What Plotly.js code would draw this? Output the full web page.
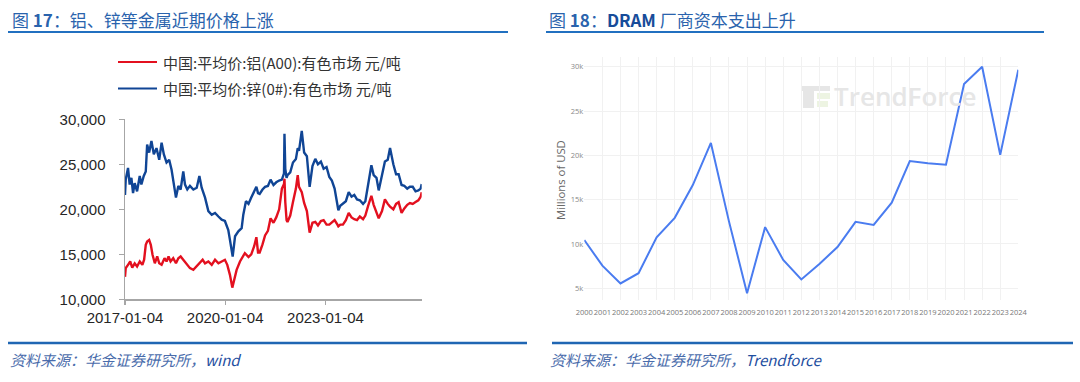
<!DOCTYPE html>
<html>
<head>
<meta charset="utf-8">
<script src="https://cdn.plot.ly/plotly-3.0.1.min.js"></script>
<style>html,body{margin:0;padding:0;background:#fff;}#chart{width:1080px;height:382px;}</style>
</head>
<body>
<div id="chart"></div>
<script>
// ---------- Figure 17: China spot prices (yuan/ton) ----------
const zincDates = [
"2017-01-04","2017-01-12","2017-02-06","2017-02-24","2017-03-15","2017-04-02","2017-04-20","2017-05-16","2017-06-14","2017-07-02","2017-07-28","2017-08-19","2017-09-03","2017-09-25","2017-10-20","2017-11-15","2017-12-14",
"2018-01-13","2018-02-08","2018-03-05","2018-04-03","2018-05-02","2018-05-28","2018-06-23","2018-07-15","2018-08-10","2018-09-04","2018-10-03","2018-10-22","2018-11-16","2018-12-15",
"2019-01-21","2019-02-27","2019-03-28","2019-04-22","2019-05-29","2019-07-04","2019-08-10","2019-09-15","2019-10-22","2019-11-27",
"2020-01-01","2020-02-07","2020-02-25","2020-03-15","2020-03-26","2020-04-21","2020-05-27","2020-07-02","2020-07-20","2020-08-18","2020-09-15","2020-10-15","2020-11-16","2020-12-10","2020-12-28",
"2021-01-15","2021-02-15","2021-03-15","2021-04-15","2021-05-14","2021-06-15","2021-07-15","2021-08-16","2021-09-15","2021-10-08","2021-10-13","2021-10-22","2021-11-05","2021-11-15","2021-12-15",
"2022-01-14","2022-02-15","2022-03-07","2022-03-21","2022-04-20","2022-05-16","2022-06-15","2022-07-15","2022-08-15","2022-09-15","2022-10-14","2022-11-15","2022-12-15",
"2023-01-16","2023-02-15","2023-03-15","2023-04-14","2023-05-15","2023-05-25","2023-06-15","2023-07-14","2023-08-15","2023-09-15","2023-10-16","2023-11-15","2023-12-15",
"2024-01-15","2024-02-19","2024-03-15","2024-04-15","2024-05-20","2024-06-14","2024-07-15","2024-08-08","2024-09-13","2024-10-15","2024-11-15","2024-12-10",
"2025-01-15","2025-02-14","2025-03-14","2025-04-15","2025-05-15","2025-06-16","2025-07-15","2025-08-15","2025-09-15","2025-10-15","2025-11-10","2025-11-21"
];
const zincPrice = [
21600,23300,24600,22750,23500,21800,22900,22000,23700,22750,23700,24200,27200,26300,27600,26100,26800,
25500,27400,26100,25200,25500,24400,22750,21300,22600,22200,24200,22750,22200,22600,
22200,22400,23700,22400,21300,19800,19400,19600,19200,18850,
18700,17700,16600,15300,14750,17000,17550,17900,19400,20900,20600,21300,22100,22500,21800,
21700,22200,22500,22600,23300,22700,23000,23200,23300,24000,28400,24500,23500,23800,24100,
25200,25600,26800,26500,28700,26300,25900,22500,24800,25600,25000,25300,24500,
24700,23600,23200,22300,20500,19900,20400,20600,20900,21900,21400,21600,21100,
21000,20600,20900,22600,24900,23800,23500,22100,24000,25300,25500,26800,
25000,23900,23900,22700,22600,22300,22500,22500,22000,22100,22300,22800
];
const aluDates = [
"2017-01-04","2017-01-12","2017-02-06","2017-03-02","2017-03-24","2017-04-20","2017-05-16","2017-06-14","2017-07-13","2017-08-01","2017-08-19","2017-09-03","2017-09-25","2017-10-13","2017-11-01","2017-11-26","2017-12-22",
"2018-01-13","2018-02-08","2018-03-12","2018-04-03","2018-04-25","2018-05-17","2018-06-15","2018-07-15","2018-08-10","2018-09-04","2018-10-03","2018-11-08","2018-12-15",
"2019-01-21","2019-02-27","2019-03-28","2019-05-03","2019-05-29","2019-07-04","2019-08-10","2019-09-15","2019-10-22","2019-11-27",
"2020-01-01","2020-01-27","2020-02-25","2020-03-22","2020-04-08","2020-05-08","2020-06-14","2020-07-13","2020-08-06","2020-09-15","2020-10-15","2020-11-16","2020-12-10","2020-12-28",
"2021-01-15","2021-02-15","2021-03-15","2021-04-15","2021-05-14","2021-06-15","2021-07-15","2021-08-16","2021-09-15","2021-10-08","2021-10-13","2021-10-22","2021-11-05","2021-11-15","2021-12-15",
"2022-01-14","2022-02-15","2022-03-07","2022-03-21","2022-04-20","2022-05-16","2022-06-15","2022-07-15","2022-08-15","2022-09-15","2022-10-14","2022-11-15","2022-12-15",
"2023-01-16","2023-02-15","2023-03-15","2023-04-14","2023-05-15","2023-05-25","2023-06-15","2023-07-14","2023-08-15","2023-09-15","2023-10-16","2023-11-15","2023-12-15",
"2024-01-15","2024-02-19","2024-03-15","2024-04-15","2024-05-20","2024-06-14","2024-07-15","2024-08-08","2024-09-13","2024-10-15","2024-11-15","2024-12-10",
"2025-01-15","2025-02-14","2025-03-14","2025-04-15","2025-05-15","2025-06-16","2025-07-15","2025-08-15","2025-09-15","2025-10-15","2025-11-10","2025-11-21"
];
const aluPrice = [
12500,13460,13830,14200,13530,14000,13650,14200,13830,14400,16060,16430,16600,16060,14950,14000,14760,
14000,13830,14570,14200,14760,14200,14570,14000,14570,14760,14390,13830,13460,
13270,13650,14000,14390,14000,14200,13830,14390,14000,14200,
14390,13830,12720,11300,12160,13270,14200,14760,15130,14700,15000,15900,16900,15200,
15200,16100,17100,17600,19000,18500,19100,20000,22300,22800,23400,20800,18800,18600,19300,
20800,22300,23800,22500,21900,20700,19800,17400,18500,18600,18200,18700,18800,
18300,18300,18500,18800,18300,18100,18300,18300,18800,19600,19100,18900,18800,
19200,18900,19300,20400,21500,20500,19600,19000,19800,21100,20600,20300,
20000,20600,20800,19600,20100,20500,20700,20600,20800,21000,21400,21900
];
const priceTicks = ["2017-01-04","2020-01-04","2023-01-04"];
const priceYTicks = [10000,15000,20000,25000,30000];
const aluName = "中国:平均价:铝(A00):有色市场 元/吨";
const zincName = "中国:平均价:锌(0#):有色市场 元/吨";

// ---------- Figure 18: DRAM capex (millions of USD) ----------
const capexYears = [2000,2001,2002,2003,2004,2005,2006,2007,2008,2009,2010,2011,2012,2013,2014,2015,2016,2017,2018,2019,2020,2021,2022,2023,2024];
const dramCapex = [10450,7550,5550,6700,10750,12950,16650,21400,12550,4450,11900,8200,6000,7750,9650,12500,12150,14650,19350,19100,18950,28050,30000,20050,29650];
const capexYTicks = [5000,10000,15000,20000,25000,30000];
const capexYLabels = ["5k","10k","15k","20k","25k","30k"];

const W = 1080, H = 382;
const px = x => x / W;
const py = y => 1 - y / H;

const traces = [
  {x: zincDates, y: zincPrice, type: "scatter", mode: "lines", name: zincName,
   line: {color: "#104595", width: 2.4}, xaxis: "x", yaxis: "y"},
  {x: aluDates, y: aluPrice, type: "scatter", mode: "lines", name: aluName,
   line: {color: "#e3101f", width: 2.4}, xaxis: "x", yaxis: "y"},
  {x: capexYears, y: dramCapex, type: "scatter", mode: "lines", name: "DRAM Capex",
   line: {color: "#4a7cf0", width: 2}, xaxis: "x2", yaxis: "y2"}
];

function hline(x0, x1, y, color, width) {
  return {type: "line", xref: "paper", yref: "paper", x0: px(x0), x1: px(x1), y0: py(y), y1: py(y),
          line: {color: color, width: width}};
}
function rect(x0, y0, x1, y1, color) {
  return {type: "rect", xref: "paper", yref: "paper", x0: px(x0), x1: px(x1), y0: py(y1), y1: py(y0),
          fillcolor: color, line: {width: 0}, layer: "below"};
}

const shapes = [
  hline(8, 508, 32, "#2170c0", 2),
  hline(546, 1044, 32, "#2170c0", 2),
  hline(8, 527, 343, "#1f66b3", 2.5),
  hline(552, 1073, 343, "#1f66b3", 2.5),
  hline(118, 157, 62, "#e3101f", 2.2),
  hline(118, 157, 88.5, "#104595", 2.2),
  // watermark logo
  rect(802, 86, 830, 91, "#e6e6e6"),
  rect(803, 91, 814, 108, "#e6e6e6"),
  rect(817, 93, 830, 99, "#edf4e2"),
  rect(817, 101, 828, 107, "#edf4e2")
];

const cjk = "Noto Sans CJK SC, sans-serif";
const annotations = [
  {xref: "paper", yref: "paper", x: px(10), y: py(20), xanchor: "left", yanchor: "middle", showarrow: false,
   text: "图 <b>17</b>：铝、锌等金属近期价格上涨", font: {family: cjk, size: 17, color: "#2a63ad"}},
  {xref: "paper", yref: "paper", x: px(547), y: py(20), xanchor: "left", yanchor: "middle", showarrow: false,
   text: "图 <b>18</b>：<span style='color:#174c9a'><b>DRAM</b></span> 厂商资本支出上升", font: {family: cjk, size: 17, color: "#2a63ad"}},
  {xref: "paper", yref: "paper", x: px(161), y: py(62), xanchor: "left", yanchor: "middle", showarrow: false,
   text: aluName, font: {family: cjk, size: 15, color: "#333333"}},
  {xref: "paper", yref: "paper", x: px(161), y: py(88.5), xanchor: "left", yanchor: "middle", showarrow: false,
   text: zincName, font: {family: cjk, size: 15, color: "#333333"}},
  {xref: "paper", yref: "paper", x: px(8), y: py(359), xanchor: "left", yanchor: "middle", showarrow: false,
   text: "<i>资料来源：华金证券研究所，<span style='color:#1f4f9f'>wind</span></i>", font: {family: cjk, size: 15, color: "#4a6cab"}},
  {xref: "paper", yref: "paper", x: px(548), y: py(359), xanchor: "left", yanchor: "middle", showarrow: false,
   text: "<i>资料来源：华金证券研究所，<span style='color:#1f4f9f'>Trendforce</span></i>", font: {family: cjk, size: 15, color: "#4a6cab"}},
  {xref: "paper", yref: "paper", x: px(561), y: py(180), xanchor: "center", yanchor: "middle", showarrow: false,
   textangle: -90, text: "Millions of USD", font: {family: "Open Sans, sans-serif", size: 11.3, color: "#666666"}},
  {xref: "paper", yref: "paper", x: px(832), y: py(96), xanchor: "left", yanchor: "middle", showarrow: false,
   text: "TrendForce", font: {family: "Open Sans, sans-serif", size: 26, weight: 600, color: "#e6e6e6"}}
];

const layout = {
  width: W, height: H,
  margin: {l: 0, r: 0, t: 0, b: 0, pad: 0},
  paper_bgcolor: "#ffffff", plot_bgcolor: "rgba(0,0,0,0)",
  showlegend: false,
  xaxis: {
    type: "date", domain: [px(125), px(421.7)], range: ["2017-01-04", "2025-11-21"], anchor: "y",
    tickvals: priceTicks, ticktext: priceTicks, showgrid: false, zeroline: false,
    showline: true, linecolor: "#a6a6a6", linewidth: 1.5, ticks: "outside", ticklen: 4, tickcolor: "#a6a6a6", tickwidth: 1.2,
    tickfont: {family: "Liberation Sans, Arial, sans-serif", size: 15, color: "#262626"}
  },
  yaxis: {
    domain: [py(299.3), py(119.3)], range: [10000, 30000], anchor: "x",
    tickvals: priceYTicks, tickformat: ",d", showgrid: false, zeroline: false,
    showline: true, linecolor: "#a6a6a6", linewidth: 1.5, ticks: "outside", ticklen: 5, tickcolor: "#a6a6a6", tickwidth: 1.2,
    ticklabelstandoff: 10,
    tickfont: {family: "Liberation Sans, Arial, sans-serif", size: 15, color: "#262626"}
  },
  xaxis2: {
    domain: [px(584.3), px(1018.3)], range: [2000, 2024], anchor: "y2",
    tickvals: capexYears, ticktext: capexYears.map(String), tickangle: 0,
    showgrid: true, gridcolor: "#f1f1f1", gridwidth: 1,
    zeroline: false, showline: false, ticks: "", ticklabelstandoff: 7,
    tickfont: {family: "Open Sans, sans-serif", size: 7.5, color: "#777777"}
  },
  yaxis2: {
    domain: [py(299.8), py(56.5)], range: [3700, 31150], anchor: "x2",
    tickvals: capexYTicks, ticktext: capexYLabels, showgrid: true, gridcolor: "#f1f1f1", gridwidth: 1,
    zeroline: false, showline: false, ticks: "",
    tickfont: {family: "Open Sans, sans-serif", size: 7.5, color: "#888888"}
  },
  shapes: shapes,
  annotations: annotations
};

Plotly.newPlot("chart", traces, layout, {staticPlot: true, displayModeBar: false});
</script>
</body>
</html>
